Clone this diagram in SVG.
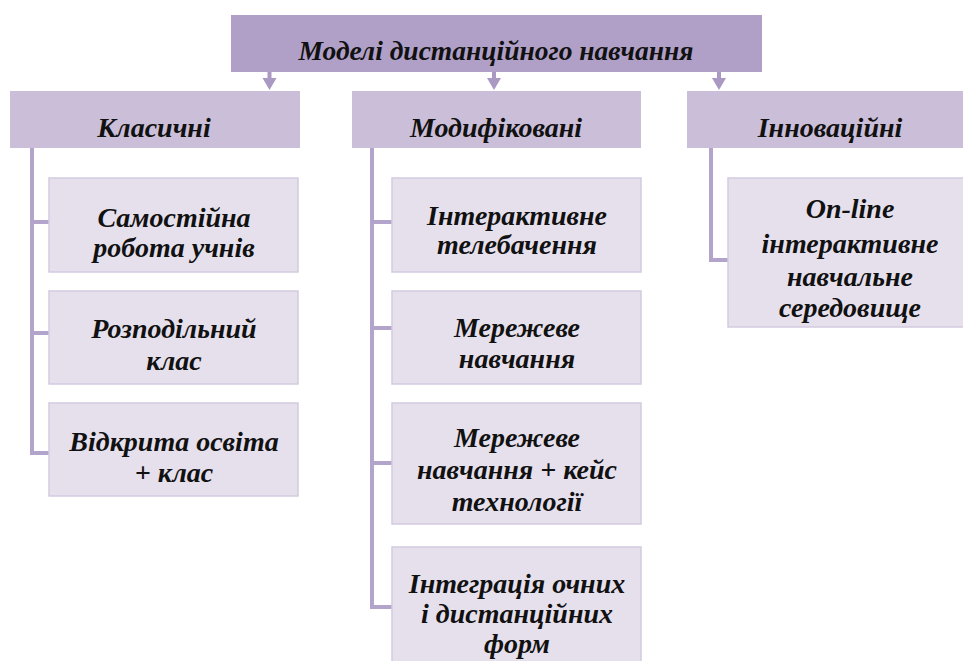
<svg xmlns="http://www.w3.org/2000/svg" width="963" height="661" viewBox="0 0 963 661">
<style>
.top{fill:#b0a0c7}
.l2{fill:#cbbed9}
.ch{fill:#e6e0ed;stroke:#d3cadf;stroke-width:1.5}
.ln{stroke:#b3a4cb;stroke-width:4;fill:none;stroke-linecap:square}
.ar{fill:#a999c3}
text{font-family:"Liberation Serif","Times New Roman",serif;font-weight:bold;font-style:italic;font-size:28px;fill:#111;text-anchor:middle}
</style>
<rect width="963" height="661" fill="#ffffff"/>
<g id="connectors">
<g class="ar">
<rect x="267.5" y="72" width="4" height="8"/><polygon points="262.5,78 276.5,78 269.5,90"/>
<rect x="492" y="72" width="4" height="8"/><polygon points="487,78 501,78 494,90"/>
<rect x="717" y="72" width="4" height="8"/><polygon points="712,78 726,78 719,90"/>
</g>
<path class="ln" d="M32,148 V453 H49 M32,222 H49 M32,333 H49"/>
<path class="ln" d="M372,148 V607 H392 M372,222 H392 M372,328 H392 M372,463 H392"/>
<path class="ln" d="M711,148 V260 H728"/>
</g>
<g id="root"><rect class="top" x="231" y="15" width="531" height="57"/><text x="496" y="60" style="font-size:27.5px">Моделі дистанційного навчання</text></g>
<g id="classic"><rect class="l2" x="10" y="91" width="290" height="57"/><text x="154" y="137">Класичні</text></g>
<g id="modified"><rect class="l2" x="352" y="91" width="289" height="57"/><text x="496" y="137">Модифіковані</text></g>
<g id="innovative"><rect class="l2" x="687" y="91" width="280" height="57"/><text x="830" y="137">Інноваційні</text></g>
<g id="c1"><rect class="ch" x="49" y="178" width="249" height="94"/><text x="174" y="227">Самостійна</text><text x="174" y="257">робота учнів</text></g>
<g id="c2"><rect class="ch" x="49" y="291" width="249" height="93"/><text x="174" y="338">Розподільний</text><text x="174" y="370">клас</text></g>
<g id="c3"><rect class="ch" x="49" y="403" width="249" height="93"/><text x="174" y="451">Відкрита освіта</text><text x="174" y="482">+ клас</text></g>
<g id="m1"><rect class="ch" x="392" y="178" width="249" height="94"/><text x="517" y="225">Інтерактивне</text><text x="517" y="254">телебачення</text></g>
<g id="m2"><rect class="ch" x="392" y="291" width="249" height="93"/><text x="517" y="337">Мережеве</text><text x="517" y="368">навчання</text></g>
<g id="m3"><rect class="ch" x="392" y="403" width="249" height="121"/><text x="517" y="447">Мережеве</text><text x="517" y="479">навчання + кейс</text><text x="517" y="511">технології</text></g>
<g id="m4"><rect class="ch" x="392" y="547" width="249" height="130"/><text x="517" y="593">Інтеграція очних</text><text x="517" y="623">і дистанційних</text><text x="517" y="653">форм</text></g>
<g id="i1"><rect class="ch" x="728" y="178" width="240" height="149"/><text x="850" y="218">On-line</text><text x="850" y="253">інтерактивне</text><text x="850" y="286">навчальне</text><text x="850" y="317">середовище</text></g>
</svg>
